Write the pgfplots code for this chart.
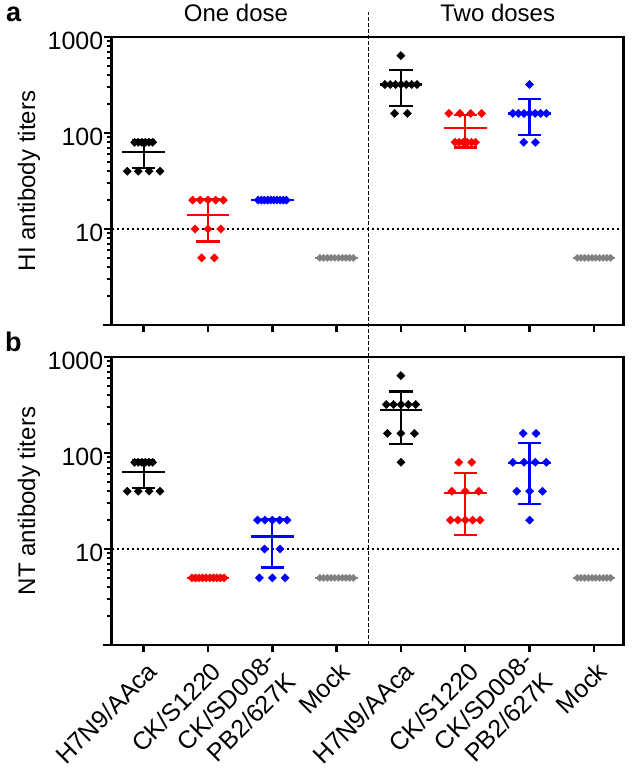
\documentclass[border=0pt]{standalone}
\usepackage{fontspec}
\setmainfont{Liberation Sans}
\usepackage{pgfplots}
\pgfplotsset{compat=1.18}
\definecolor{pred}{RGB}{255,0,0}
\definecolor{pblue}{RGB}{0,0,255}
\definecolor{pgray}{RGB}{128,128,128}
\pgfplotsset{
 mypts/.style={only marks, mark=square*, mark size=2.9pt, mark options={rotate=45}},
 mygpts/.style={only marks, mark=square*, mark size=2.5pt, mark options={rotate=45}},
 mystat/.style={line width=2.2pt, no marks, unbounded coords=jump},
 mythr/.style={black, line width=1.6pt, dash pattern=on 2.6pt off 2.4pt, no marks},
}
\begin{document}
\begin{tikzpicture}
\path[use as bounding box] (0,0) rectangle (633pt,782pt);
% ---------------- panel a ----------------
\begin{axis}[scale only axis, width=512pt, height=288pt, anchor=south west,
  at={(111.5pt,457pt)},
  xmin=-0.5, xmax=7.46, ymode=log, ymin=1, ymax=1000,
  axis line style={line width=2.8pt},
  tick align=outside, tick pos=left,
  xtick={0,1,2,3,4,5,6,7}, xticklabels={},
  ytick={1,10,100,1000}, yticklabels={{},10,100,1000},
  minor ytick={2,3,4,5,6,7,8,9,20,30,40,50,60,70,80,90,200,300,400,500,600,700,800,900},
  major tick length=7.5pt, minor tick length=4.5pt,
  every tick/.style={black, line width=2.4pt},
  every minor tick/.style={black, line width=2pt},
  tick label style={font=\fontsize{25}{29}\selectfont},
  yticklabel style={inner xsep=0.5pt, yshift=-4pt},
  clip=false]
\addplot[mythr] coordinates {(-0.5,10) (7.46,10)};
\addplot[mypts, black] table {
x y
-0.14 80
-0.084 80
-0.028 80
0.028 80
0.084 80
0.14 80
-0.255 40
-0.085 40
0.085 40
0.255 40
4 640
3.75 320
3.833 320
3.917 320
4 320
4.083 320
4.167 320
4.25 320
3.9 160
4.1 160
};
\addplot[mypts, pred] table {
x y
0.76 20
0.88 20
1 20
1.12 20
1.24 20
0.8 10
1 10
1.2 10
0.9 5
1.1 5
4.745 160
4.915 160
5.085 160
5.255 160
4.84 80
4.904 80
4.968 80
5.032 80
5.096 80
5.16 80
};
\addplot[mypts, pblue] table {
x y
1.78 20
1.829 20
1.878 20
1.927 20
1.976 20
2.024 20
2.073 20
2.122 20
2.171 20
2.22 20
6 320
5.74 160
5.827 160
5.913 160
6 160
6.087 160
6.173 160
6.26 160
5.91 80
6.09 80
};
\addplot[mygpts, pgray] table {
x y
2.74 5
2.798 5
2.856 5
2.913 5
2.971 5
3.029 5
3.087 5
3.144 5
3.202 5
3.26 5
6.74 5
6.798 5
6.856 5
6.913 5
6.971 5
7.029 5
7.087 5
7.144 5
7.202 5
7.26 5
};
\addplot[mystat, black] coordinates {(-0.33,64) (0.33,64) (0,nan) (-0.18,84.66) (0.18,84.66) (0,nan) (0,84.66) (0,43.34) (0,nan) (-0.18,43.34) (0.18,43.34)};
\addplot[mystat, black] coordinates {(3.67,320) (4.33,320) (4,nan) (3.82,450.64) (4.18,450.64) (4,nan) (4,450.64) (4,189.36) (4,nan) (3.82,189.36) (4.18,189.36)};
\addplot[mystat, pred] coordinates {(0.67,14) (1.33,14) (1,nan) (0.82,20.58) (1.18,20.58) (1,nan) (1,20.58) (1,7.42) (1,nan) (0.82,7.42) (1.18,7.42)};
\addplot[mystat, pred] coordinates {(4.67,112) (5.33,112) (5,nan) (4.82,153.31) (5.18,153.31) (5,nan) (5,153.31) (5,70.69) (5,nan) (4.82,70.69) (5.18,70.69)};
\addplot[mystat, pblue] coordinates {(1.67,20) (2.33,20)};
\addplot[mystat, pblue] coordinates {(5.67,160) (6.33,160) (6,nan) (5.82,225.32) (6.18,225.32) (6,nan) (6,225.32) (6,94.68) (6,nan) (5.82,94.68) (6.18,94.68)};
\addplot[mystat, pgray] coordinates {(2.67,5) (3.33,5)};
\addplot[mystat, pgray] coordinates {(6.67,5) (7.33,5)};
\draw[line width=2.8pt] (rel axis cs:0,0) -- ++(-9pt,0pt);
\end{axis}
% ---------------- panel b ----------------
\begin{axis}[scale only axis, width=512pt, height=288pt, anchor=south west,
  at={(111.5pt,137pt)},
  xmin=-0.5, xmax=7.46, ymode=log, ymin=1, ymax=1000,
  axis line style={line width=2.8pt},
  tick align=outside, tick pos=left,
  xtick={0,1,2,3,4,5,6,7},
  xticklabels={H7N9/AAca, CK/S1220, {CK/SD008-\\PB2/627K}, Mock, H7N9/AAca, CK/S1220, {CK/SD008-\\PB2/627K}, Mock},
  ytick={1,10,100,1000}, yticklabels={{},10,100,1000},
  minor ytick={2,3,4,5,6,7,8,9,20,30,40,50,60,70,80,90,200,300,400,500,600,700,800,900},
  major tick length=7.5pt, minor tick length=4.5pt,
  every tick/.style={black, line width=2.4pt},
  every minor tick/.style={black, line width=2pt},
  tick label style={font=\fontsize{25}{29}\selectfont},
  yticklabel style={inner xsep=0.5pt, yshift=-4pt},
  xticklabel style={xshift=11pt, yshift=-12pt, rotate=45, anchor=east, align=right},
  clip=false]
\addplot[mythr] coordinates {(-0.5,10) (7.46,10)};
\addplot[mypts, black] table {
x y
-0.14 80
-0.084 80
-0.028 80
0.028 80
0.084 80
0.14 80
-0.255 40
-0.085 40
0.085 40
0.255 40
4 640
3.77 320
3.885 320
4 320
4.115 320
4.23 320
3.79 160
4 160
4.21 160
4 80
};
\addplot[mypts, pred] table {
x y
0.75 5
0.806 5
0.861 5
0.917 5
0.972 5
1.028 5
1.083 5
1.139 5
1.194 5
1.25 5
4.9 80
5.1 80
4.79 40
5 40
5.21 40
4.77 20
4.885 20
5 20
5.115 20
5.23 20
};
\addplot[mypts, pblue] table {
x y
1.77 20
1.885 20
2 20
2.115 20
2.23 20
1.88 10
2.12 10
1.8 5
2 5
2.2 5
5.9 160
6.1 160
5.74 80
5.913 80
6.087 80
6.26 80
5.8 40
6 40
6.2 40
6 20
};
\addplot[mygpts, pgray] table {
x y
2.74 5
2.798 5
2.856 5
2.913 5
2.971 5
3.029 5
3.087 5
3.144 5
3.202 5
3.26 5
6.74 5
6.798 5
6.856 5
6.913 5
6.971 5
7.029 5
7.087 5
7.144 5
7.202 5
7.26 5
};
\addplot[mystat, black] coordinates {(-0.33,64) (0.33,64) (0,nan) (-0.18,84.66) (0.18,84.66) (0,nan) (0,84.66) (0,43.34) (0,nan) (-0.18,43.34) (0.18,43.34)};
\addplot[mystat, black] coordinates {(3.67,280) (4.33,280) (4,nan) (3.82,436.63) (4.18,436.63) (4,nan) (4,436.63) (4,123.37) (4,nan) (3.82,123.37) (4.18,123.37)};
\addplot[mystat, pred] coordinates {(0.67,5) (1.33,5)};
\addplot[mystat, pred] coordinates {(4.67,38) (5.33,38) (5,nan) (4.82,61.94) (5.18,61.94) (5,nan) (5,61.94) (5,14.06) (5,nan) (4.82,14.06) (5.18,14.06)};
\addplot[mystat, pblue] coordinates {(1.67,13.5) (2.33,13.5) (2,nan) (1.82,20.59) (2.18,20.59) (2,nan) (2,20.59) (2,6.41) (2,nan) (1.82,6.41) (2.18,6.41)};
\addplot[mystat, pblue] coordinates {(5.67,78) (6.33,78) (6,nan) (5.82,126.49) (6.18,126.49) (6,nan) (6,126.49) (6,29.51) (6,nan) (5.82,29.51) (6.18,29.51)};
\addplot[mystat, pgray] coordinates {(2.67,5) (3.33,5)};
\addplot[mystat, pgray] coordinates {(6.67,5) (7.33,5)};
\draw[line width=2.8pt] (rel axis cs:0,0) -- ++(-9pt,0pt);
\draw[black, line width=1.4pt, dash pattern=on 4pt off 2pt] (axis cs:3.5,1) -- ++(0pt,633pt);
\end{axis}
% ---------------- texts ----------------
\node[font=\fontsize{24}{28}\selectfont, anchor=base] at (236pt,760.3pt) {One dose};
\node[font=\fontsize{24}{28}\selectfont, anchor=base] at (497.7pt,760.3pt) {Two doses};
\node[font=\bfseries\fontsize{27}{31}\selectfont, anchor=base west, inner sep=0pt] at (6pt,760pt) {a};
\node[font=\bfseries\fontsize{27}{31}\selectfont, anchor=base west, inner sep=0pt] at (5pt,430pt) {b};
\node[font=\fontsize{24}{28}\selectfont, rotate=90] at (29pt,601pt) {HI antibody titers};
\node[font=\fontsize{24}{28}\selectfont, rotate=90] at (29pt,281pt) {NT antibody titers};
\end{tikzpicture}
\end{document}
